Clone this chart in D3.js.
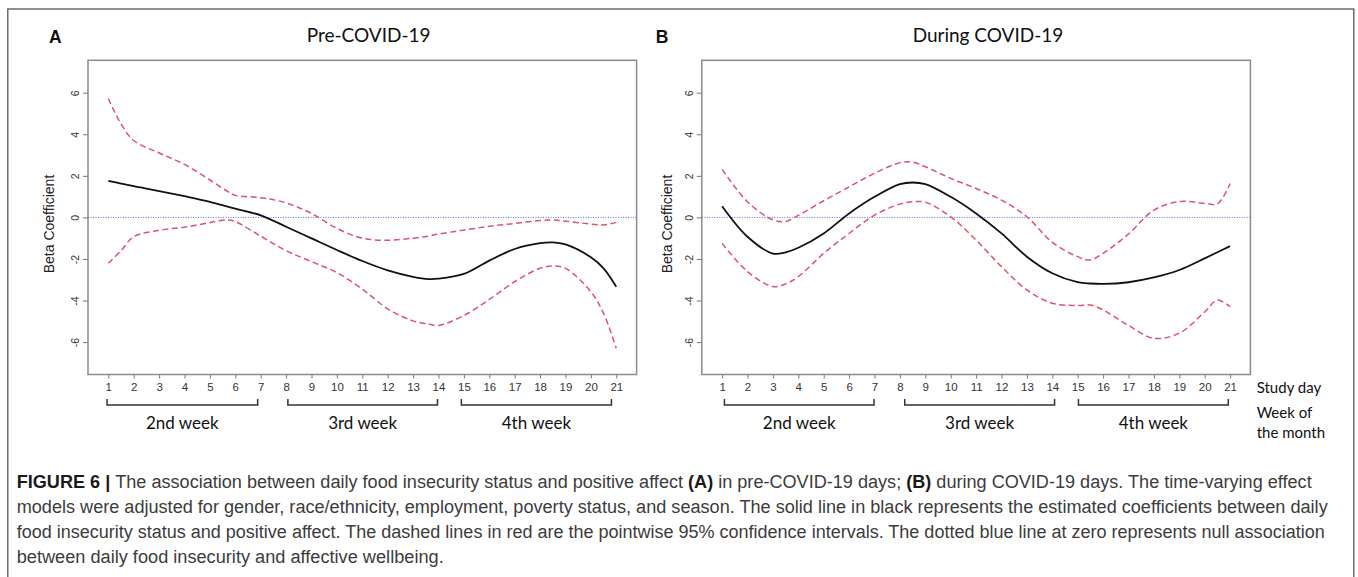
<!DOCTYPE html>
<html>
<head>
<meta charset="utf-8">
<script src="https://cdn.jsdelivr.net/npm/d3@7"></script>
<style>
  body { margin: 0; background: #fff; }
  svg { display: block; }
</style>
</head>
<body>
<svg id="chart" width="1358" height="577"></svg>
<script>
// values
const xTicks = [1, 2, 3, 4, 5, 6, 7, 8, 9, 10, 11, 12, 13, 14, 15, 16, 17, 18, 19, 20, 21];
const yTicks = [-6, -4, -2, 0, 2, 4, 6];

// panel A: pre-COVID-19
const daysA  = [1, 1.5, 2, 3, 4, 5, 5.7, 6, 7, 8, 9, 10, 11, 12, 13, 13.6, 14, 15, 16, 17, 18, 18.5, 19, 20, 20.5, 21];
const estA   = [1.76, 1.63, 1.5, 1.27, 1.02, 0.75, 0.52, 0.42, 0.1, -0.45, -1.01, -1.57, -2.1, -2.55, -2.86, -2.97, -2.95, -2.72, -2.08, -1.52, -1.24, -1.2, -1.3, -1.92, -2.45, -3.34];
const upperA = [5.72, 4.5, 3.7, 3.1, 2.55, 1.8, 1.25, 1.06, 0.95, 0.7, 0.19, -0.53, -1.0, -1.1, -1.0, -0.9, -0.8, -0.61, -0.43, -0.29, -0.15, -0.12, -0.18, -0.32, -0.36, -0.24];
const lowerA = [-2.21, -1.6, -0.93, -0.62, -0.47, -0.25, -0.12, -0.2, -0.9, -1.6, -2.13, -2.66, -3.45, -4.4, -4.98, -5.13, -5.2, -4.72, -3.95, -3.09, -2.45, -2.34, -2.45, -3.58, -4.62, -6.3];

// panel B: during COVID-19
const daysB  = [1, 2, 3, 3.5, 4, 5, 6, 7, 8, 8.5, 9, 10, 11, 12, 13, 14, 15, 15.5, 16, 17, 18, 19, 20, 20.5, 21];
const estB   = [0.54, -0.93, -1.74, -1.68, -1.46, -0.77, 0.19, 0.99, 1.6, 1.68, 1.6, 0.99, 0.19, -0.77, -1.89, -2.69, -3.12, -3.18, -3.2, -3.12, -2.89, -2.53, -1.97, -1.68, -1.38];
const upperB = [2.31, 0.75, -0.12, -0.2, 0.1, 0.8, 1.47, 2.12, 2.63, 2.66, 2.44, 1.88, 1.39, 0.83, 0.03, -1.2, -1.89, -2.05, -1.73, -0.8, 0.35, 0.76, 0.68, 0.65, 1.63];
const lowerB = [-1.25, -2.61, -3.33, -3.2, -2.85, -1.73, -0.77, 0.11, 0.64, 0.75, 0.73, 0.03, -1.09, -2.37, -3.49, -4.13, -4.24, -4.22, -4.45, -5.2, -5.82, -5.57, -4.55, -3.98, -4.3];

// week brackets (in study days)
const weekLabels = ["2nd week", "3rd week", "4th week"];
const weekSpanA = [[0.95, 6.88], [8.07, 13.96], [14.9, 20.81]];
const weekSpanB = [[1.09, 6.98], [8.19, 14.09], [15.03, 20.93]];

const captionLines = [
    [["FIGURE 6 | ", true], ["The association between daily food insecurity status and positive affect ", false], ["(A)", true], [" in pre-COVID-19 days; ", false], ["(B)", true], [" during COVID-19 days. The time-varying effect", false]],
    [["models were adjusted for gender, race/ethnicity, employment, poverty status, and season. The solid line in black represents the estimated coefficients between daily", false]],
    [["food insecurity status and positive affect. The dashed lines in red are the pointwise 95% confidence intervals. The dotted blue line at zero represents null association", false]],
    [["between daily food insecurity and affective wellbeing.", false]]
];
const captionWidths = [1295, 1311, 1308, 427];
/////////////////////////////////////////////////////

const sans = "'Liberation Sans', Arial, sans-serif";
const humanist = "Lato, 'Open Sans', sans-serif";

const svg = d3.select("#chart");

// outer figure frame
svg.append("rect")
    .attr("x", 7.8).attr("y", 9)
    .attr("width", 1346).attr("height", 620)
    .attr("fill", "none")
    .attr("stroke", "#555")
    .attr("stroke-width", 1.3);

const plotTop = 60.3, plotBottom = 374.5;

const panels = [
    {letter: "A", title: "Pre-COVID-19", left: 88, right: 636.6, letterX: 55.3, titleX: 368.6, ylabX: 54,
     days: daysA, est: estA, upper: upperA, lower: lowerA, spans: weekSpanA},
    {letter: "B", title: "During COVID-19", left: 701.8, right: 1250.4, letterX: 662, titleX: 988, ylabX: 672,
     days: daysB, est: estB, upper: upperB, lower: lowerB, spans: weekSpanB}
];

panels.forEach(p => {
    const x = d3.scaleLinear().domain([0.2, 21.8]).range([p.left, p.right]);
    const y = d3.scaleLinear().domain([-7.56, 7.56]).range([plotBottom, plotTop]);
    const g = svg.append("g");

    // panel letter and title
    g.append("text")
        .attr("x", p.letterX).attr("y", 43.3)
        .attr("text-anchor", "middle")
        .attr("font-family", sans).attr("font-weight", "bold").attr("font-size", 17.5)
        .attr("fill", "#111")
        .text(p.letter);
    g.append("text")
        .attr("x", p.titleX).attr("y", 41.5)
        .attr("text-anchor", "middle")
        .attr("font-family", humanist).attr("font-size", 19)
        .attr("fill", "#111")
        .text(p.title);

    // y axis label
    g.append("text")
        .attr("transform", `translate(${p.ylabX},224) rotate(-90)`)
        .attr("text-anchor", "middle")
        .attr("font-family", sans).attr("font-size", 14)
        .attr("fill", "#222")
        .text("Beta Coefficient");

    // y axis
    const ya = g.append("g")
        .attr("transform", `translate(${p.left},0)`)
        .call(d3.axisLeft(y).tickValues(yTicks).tickSize(5).tickFormat(d => String(d)));
    ya.select(".domain").remove();
    ya.selectAll(".tick line").attr("stroke", "#777");
    ya.selectAll(".tick text")
        .attr("x", null).attr("dy", null)
        .attr("transform", "translate(-9.3,0) rotate(-90)")
        .attr("text-anchor", "middle")
        .attr("font-family", sans).attr("font-size", 10.5)
        .attr("fill", "#333");

    // x axis
    const xa = g.append("g")
        .attr("transform", `translate(0,${plotBottom})`)
        .call(d3.axisBottom(x).tickValues(xTicks).tickSize(4).tickFormat(d => String(d)));
    xa.select(".domain").remove();
    xa.selectAll(".tick line").attr("stroke", "#777");
    xa.selectAll(".tick text")
        .attr("y", 16.4).attr("dy", null)
        .attr("font-family", sans).attr("font-size", 11.5)
        .attr("fill", "#333");

    // plot box
    g.append("rect")
        .attr("x", p.left).attr("y", plotTop)
        .attr("width", p.right - p.left).attr("height", plotBottom - plotTop)
        .attr("fill", "none")
        .attr("stroke", "#8c8c8c")
        .attr("stroke-width", 1.5);

    // null line
    g.append("line")
        .attr("x1", p.left).attr("x2", p.right)
        .attr("y1", y(0)).attr("y2", y(0))
        .attr("stroke", "#4f6fe0")
        .attr("stroke-width", 1)
        .attr("stroke-dasharray", "1,1.5");

    const line = d3.line()
        .x(d => x(d[0]))
        .y(d => y(d[1]))
        .curve(d3.curveCatmullRom.alpha(0.5));

    [p.upper, p.lower].forEach(vals => {
        g.append("path")
            .datum(p.days.map((d, i) => [d, vals[i]]))
            .attr("d", line)
            .attr("fill", "none")
            .attr("stroke", "#df536b")
            .attr("stroke-width", 1.5)
            .attr("stroke-dasharray", "6,3.5");
    });

    g.append("path")
        .datum(p.days.map((d, i) => [d, p.est[i]]))
        .attr("d", line)
        .attr("fill", "none")
        .attr("stroke", "#111")
        .attr("stroke-width", 1.8);

    // week brackets
    p.spans.forEach((s, i) => {
        g.append("path")
            .attr("d", `M${x(s[0])},399V405H${x(s[1])}V399`)
            .attr("fill", "none")
            .attr("stroke", "#333")
            .attr("stroke-width", 1.5);
        g.append("text")
            .attr("x", (x(s[0]) + x(s[1])) / 2).attr("y", 429.3)
            .attr("text-anchor", "middle")
            .attr("font-family", humanist).attr("font-size", 17)
            .attr("fill", "#111")
            .text(weekLabels[i]);
    });
});

// right-hand axis notes
[["Study day", 393.3], ["Week of", 417.5], ["the month", 437.5]].forEach(([t, yy]) => {
    svg.append("text")
        .attr("x", 1256.7).attr("y", yy)
        .attr("font-family", humanist).attr("font-size", 15)
        .attr("fill", "#111")
        .text(t);
});

// caption
captionLines.forEach((segs, i) => {
    const t = svg.append("text")
        .attr("x", 16.7).attr("y", 488.3 + i * 25)
        .attr("font-family", sans).attr("font-size", 18)
        .attr("textLength", captionWidths[i])
        .attr("lengthAdjust", "spacingAndGlyphs")
        .attr("fill", "#3c3c3c");
    segs.forEach(([s, bold]) => {
        t.append("tspan")
            .attr("font-weight", bold ? "bold" : "normal")
            .attr("fill", bold ? "#1a1a1a" : "#3c3c3c")
            .text(s);
    });
});
</script>
</body>
</html>
